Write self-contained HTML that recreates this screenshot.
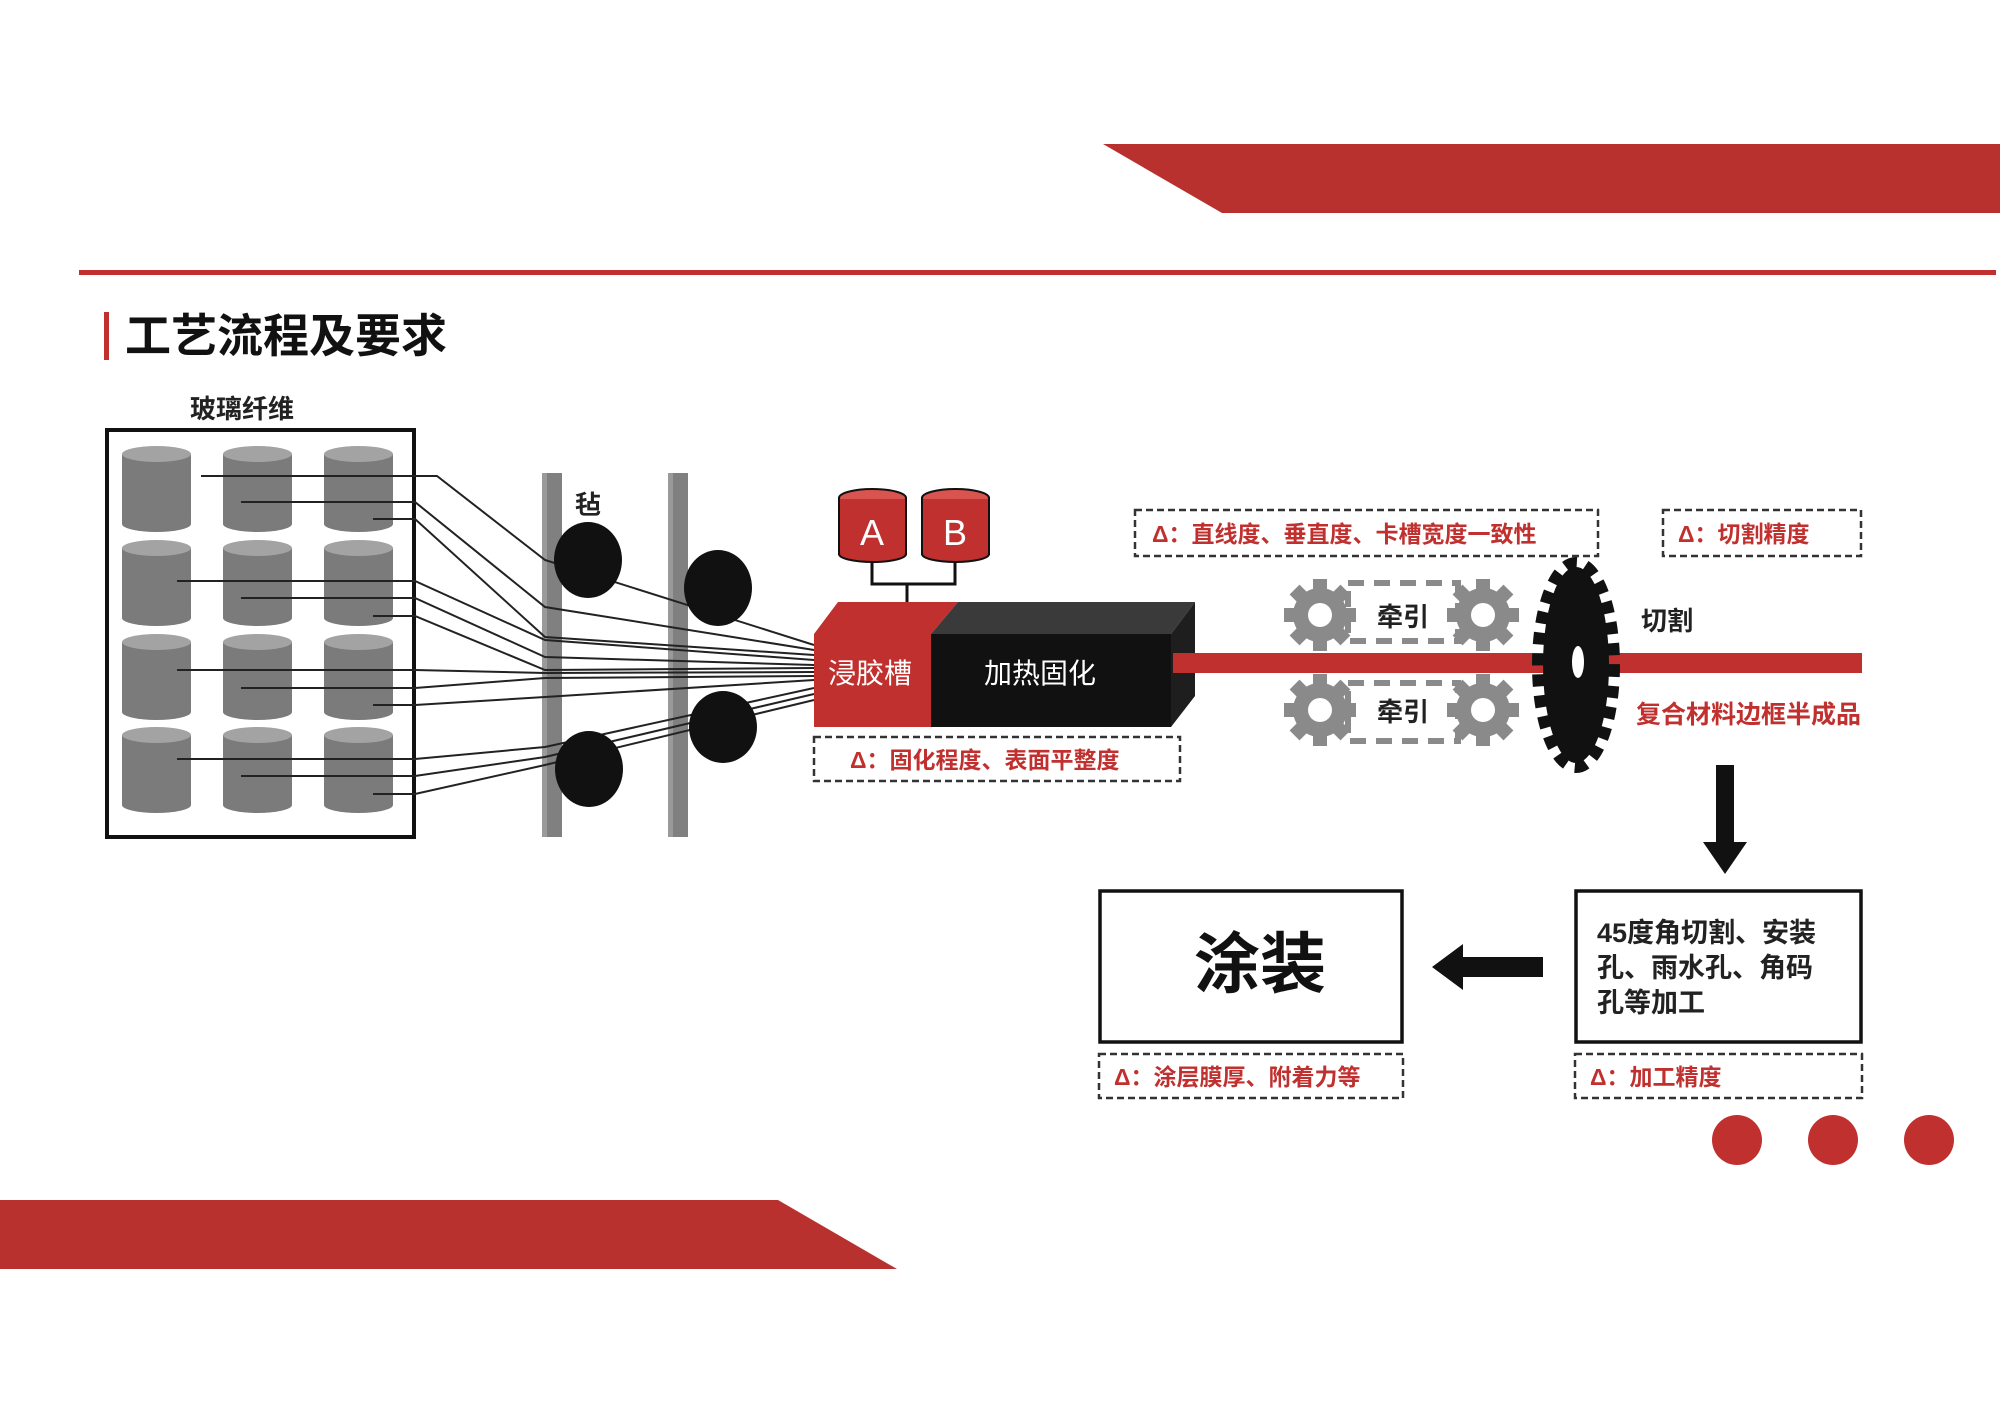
<!DOCTYPE html>
<html><head><meta charset="utf-8"><style>
html,body{margin:0;padding:0;background:#fff;}
svg{display:block;}
text{font-family:"Liberation Sans","Noto Sans CJK SC",sans-serif;font-weight:bold;}
</style></head><body>
<svg width="2000" height="1414" viewBox="0 0 2000 1414" xmlns="http://www.w3.org/2000/svg">
<defs>
<g id="cyl">
<rect x="0" y="8" width="69" height="70" fill="#7b7b7b"/>
<ellipse cx="34.5" cy="78" rx="34.5" ry="8" fill="#7b7b7b"/>
<ellipse cx="34.5" cy="8" rx="34.5" ry="8" fill="#a3a3a3"/>
</g>
<g id="gear">
<circle r="27" fill="#8a8a8a"/>
<g fill="#8a8a8a">
<rect x="-7" y="-36" width="14" height="14"/>
<rect x="-7" y="-36" width="14" height="14" transform="rotate(45)"/>
<rect x="-7" y="-36" width="14" height="14" transform="rotate(90)"/>
<rect x="-7" y="-36" width="14" height="14" transform="rotate(135)"/>
<rect x="-7" y="-36" width="14" height="14" transform="rotate(180)"/>
<rect x="-7" y="-36" width="14" height="14" transform="rotate(225)"/>
<rect x="-7" y="-36" width="14" height="14" transform="rotate(270)"/>
<rect x="-7" y="-36" width="14" height="14" transform="rotate(315)"/>
</g>
<circle r="12" fill="#fff"/>
</g>
</defs>

<polygon points="1103,144 2000,144 2000,213 1222,213" fill="#b8312f"/>
<rect x="79" y="270" width="1917" height="5" fill="#c0302f"/>
<polygon points="0,1200 778,1200 897,1269 0,1269" fill="#b8312f"/>

<rect x="104" y="312" width="5" height="48" fill="#c0302f"/>
<text x="125" y="352" font-size="46" fill="#111">工艺流程及要求</text>

<text x="242" y="418" font-size="26" fill="#222" text-anchor="middle">玻璃纤维</text>
<rect x="107" y="430" width="307" height="407" fill="#fff" stroke="#111" stroke-width="4"/>
<use href="#cyl" x="122" y="446"/><use href="#cyl" x="223" y="446"/><use href="#cyl" x="324" y="446"/>
<use href="#cyl" x="122" y="540"/><use href="#cyl" x="223" y="540"/><use href="#cyl" x="324" y="540"/>
<use href="#cyl" x="122" y="634"/><use href="#cyl" x="223" y="634"/><use href="#cyl" x="324" y="634"/>
<use href="#cyl" x="122" y="727"/><use href="#cyl" x="223" y="727"/><use href="#cyl" x="324" y="727"/>

<rect x="542" y="473" width="20" height="364" fill="#808080"/>
<rect x="542" y="473" width="5" height="364" fill="#9a9a9a"/>
<rect x="668" y="473" width="20" height="364" fill="#808080"/>
<rect x="668" y="473" width="5" height="364" fill="#9a9a9a"/>
<text x="588" y="514" font-size="26" fill="#222" text-anchor="middle">毡</text>

<g fill="none" stroke="#222" stroke-width="2">
<polyline points="201,476 437,476 545,560 814,645"/>
<polyline points="241,502 415,502 545,607 814,650"/>
<polyline points="373,519 415,519 545,637 814,655"/>
<polyline points="177,581 415,581 545,640 814,660"/>
<polyline points="241,598 415,598 545,657 814,665"/>
<polyline points="373,616 415,616 545,670 814,668"/>
<polyline points="177,670 415,670 545,673 814,672"/>
<polyline points="241,688 415,688 545,678 814,676"/>
<polyline points="373,705 415,705 545,697 814,680"/>
<polyline points="177,759 415,759 545,747 814,688"/>
<polyline points="241,776 415,776 545,757 814,694"/>
<polyline points="373,794 415,794 545,765 814,700"/>
</g>

<ellipse cx="588" cy="560" rx="34" ry="38" fill="#111"/>
<ellipse cx="718" cy="588" rx="34" ry="38" fill="#111"/>
<ellipse cx="723" cy="727" rx="34" ry="36" fill="#111"/>
<ellipse cx="589" cy="769" rx="34" ry="38" fill="#111"/>

<g stroke="#111" stroke-width="2">
<rect x="839" y="498" width="67" height="56" fill="#c0302f"/>
<ellipse cx="872.5" cy="554" rx="33.5" ry="8" fill="#c0302f"/>
<ellipse cx="872.5" cy="498" rx="33.5" ry="9" fill="#d9534f"/>
<rect x="922" y="498" width="67" height="56" fill="#c0302f"/>
<ellipse cx="955.5" cy="554" rx="33.5" ry="8" fill="#c0302f"/>
<ellipse cx="955.5" cy="498" rx="33.5" ry="9" fill="#d9534f"/>
</g>
<rect x="840" y="499" width="65" height="54" fill="#c0302f"/>
<rect x="923" y="499" width="65" height="54" fill="#c0302f"/>
<text x="872" y="545" font-size="36" fill="#fff" text-anchor="middle" style="font-weight:normal">A</text>
<text x="955" y="545" font-size="36" fill="#fff" text-anchor="middle" style="font-weight:normal">B</text>
<polyline points="872,562 872,584 955,584 955,562" fill="none" stroke="#111" stroke-width="3"/>
<line x1="907" y1="584" x2="907" y2="602" stroke="#111" stroke-width="3"/>

<polygon points="814,634 838,602 958,602 931,634" fill="#c0302f"/>
<rect x="814" y="634" width="117" height="93" fill="#c0302f"/>
<polygon points="931,634 958,602 1195,602 1171,634" fill="#3a3a3a"/>
<rect x="931" y="634" width="240" height="93" fill="#111"/>
<polygon points="1171,634 1195,602 1195,696 1171,727" fill="#1e1e1e"/>
<text x="870" y="683" font-size="28" fill="#fff" text-anchor="middle" style="font-weight:normal">浸胶槽</text>
<text x="1040" y="683" font-size="28" fill="#fff" text-anchor="middle" style="font-weight:normal">加热固化</text>

<g fill="none" stroke="#333" stroke-width="2.5" stroke-dasharray="7 4">
<rect x="814" y="737" width="366" height="44"/>
<rect x="1135" y="510" width="463" height="46"/>
<rect x="1663" y="510" width="198" height="46"/>
<rect x="1575" y="1054" width="287" height="44"/>
<rect x="1099" y="1054" width="304" height="44"/>
</g>
<g font-size="23" fill="#c0302f">
<text x="850" y="768">Δ：固化程度、表面平整度</text>
<text x="1152" y="542">Δ：直线度、垂直度、卡槽宽度一致性</text>
<text x="1678" y="542">Δ：切割精度</text>
<text x="1590" y="1085">Δ：加工精度</text>
<text x="1114" y="1085">Δ：涂层膜厚、附着力等</text>
</g>

<rect x="1173" y="653" width="689" height="20" fill="#c0302f"/>

<g fill="none" stroke="#8a8a8a" stroke-width="6" stroke-dasharray="16 10">
<rect x="1348" y="583" width="110" height="58"/>
<rect x="1348" y="683" width="110" height="58"/>
</g>
<use href="#gear" x="1320" y="615"/>
<use href="#gear" x="1483" y="615"/>
<use href="#gear" x="1320" y="710"/>
<use href="#gear" x="1483" y="710"/>
<text x="1403" y="626" font-size="26" fill="#222" text-anchor="middle">牵引</text>
<text x="1403" y="721" font-size="26" fill="#222" text-anchor="middle">牵引</text>

<ellipse cx="1576" cy="665" rx="33" ry="98" fill="#111"/>
<ellipse cx="1576" cy="665" rx="38" ry="102" fill="none" stroke="#111" stroke-width="12" stroke-dasharray="12 9"/>
<ellipse cx="1578" cy="662" rx="6" ry="16" fill="#fff"/>
<text x="1667" y="630" font-size="26" fill="#222" text-anchor="middle">切割</text>
<text x="1636" y="723" font-size="25" fill="#c0302f">复合材料边框半成品</text>

<rect x="1716" y="765" width="18" height="80" fill="#111"/>
<polygon points="1703,842 1747,842 1725,874" fill="#111"/>

<rect x="1576" y="891" width="285" height="151" fill="#fff" stroke="#111" stroke-width="3.5"/>
<g font-size="27" fill="#222">
<text x="1597" y="942">45度角切割、安装</text>
<text x="1597" y="977">孔、雨水孔、角码</text>
<text x="1597" y="1012">孔等加工</text>
</g>

<rect x="1460" y="957" width="83" height="20" fill="#111"/>
<polygon points="1463,944 1463,990 1432,967" fill="#111"/>

<rect x="1100" y="891" width="302" height="151" fill="#fff" stroke="#111" stroke-width="3.5"/>
<text x="1260" y="987" font-size="66" fill="#111" text-anchor="middle">涂装</text>

<circle cx="1737" cy="1140" r="25" fill="#c0302f"/>
<circle cx="1833" cy="1140" r="25" fill="#c0302f"/>
<circle cx="1929" cy="1140" r="25" fill="#c0302f"/>
</svg>
</body></html>
